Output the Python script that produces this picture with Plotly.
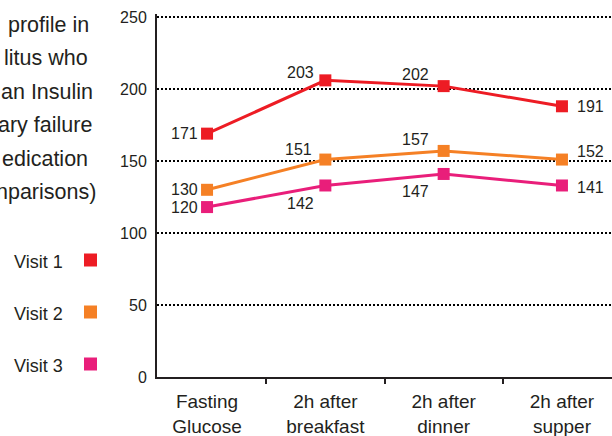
import plotly.graph_objects as go

# ---- data ----
categories = ["Fasting<br>Glucose", "2h after<br>breakfast", "2h after<br>dinner", "2h after<br>supper"]
series_names = ["Visit 1", "Visit 2", "Visit 3"]
visit1 = [169, 206, 202, 188]
visit2 = [130, 151, 157, 151]
visit3 = [118, 133, 141, 133]
visit1_labels = ["171", "203", "202", "191"]
visit2_labels = ["130", "151", "157", "152"]
visit3_labels = ["120", "142", "147", "141"]
y_ticks = [0, 50, 100, 150, 200, 250]
title_lines = ["profile in", "litus who", "an Insulin", "ary failure", "edication", "nparisons)"]

colors = ["#ED1C24", "#F58025", "#E91E7A"]
txt = "#231F20"
FONT = "Liberation Sans, Arial, sans-serif"

W, H = 612, 436
ML, MR, MT, MB = 157, 0, 14, 59
PW, PH = W - ML - MR, H - MT - MB

def px(x):  # page pixel -> paper
    return (x - ML) / PW

def py(y):
    return (H - MB - y) / PH

fig = go.Figure()
all_vals = [visit1, visit2, visit3]
all_labels = [visit1_labels, visit2_labels, visit3_labels]
for name, vals, col in zip(series_names, all_vals, colors):
    fig.add_trace(go.Scatter(
        x=categories, y=vals, mode="lines+markers", name=name,
        line=dict(color=col, width=3),
        marker=dict(symbol="square", size=12, color=col),
        showlegend=False, hoverinfo="skip"))

# label offsets (xanchor, xshift, yshift) per series / point
offsets = [
    [("right", -7, 0), ("right", -9, 8), ("right", -13, 12), ("left", 13, 0)],
    [("right", -7, 0), ("right", -11, 10), ("right", -13, 11), ("left", 13, 8)],
    [("right", -7, 0), ("right", -9, -18), ("right", -13, -18), ("left", 13, -2)],
]
annotations = []
for vals, labs, offs in zip(all_vals, all_labels, offsets):
    for c, v, lab, (xa, xs, ys) in zip(categories, vals, labs, offs):
        annotations.append(dict(
            x=c, y=v, xref="x", yref="y", text=lab, showarrow=False,
            xanchor=xa, yanchor="middle", xshift=xs, yshift=ys,
            font=dict(family=FONT, size=16, color=txt)))

# title fragments (cropped at left edge in the reference)
title_right = [91, 90, 95, 94, 90, 98]
title_y = [25, 58, 92, 125, 159, 192]
for line, xr, yc in zip(title_lines, title_right, title_y):
    annotations.append(dict(
        x=px(xr), y=py(yc), xref="paper", yref="paper", text=line,
        showarrow=False, xanchor="right", yanchor="middle",
        font=dict(family=FONT, size=21.5, color=txt)))

# manual legend (text left, swatch right)
leg_y = [262, 314, 366]
shapes = []
for name, col, yc in zip(series_names, colors, leg_y):
    annotations.append(dict(
        x=px(12), y=py(yc), xref="paper", yref="paper", text=name,
        showarrow=False, xanchor="left", yanchor="middle",
        font=dict(family=FONT, size=18, color=txt)))
    shapes.append(dict(
        type="rect", xref="paper", yref="paper",
        x0=px(84), x1=px(97), y0=py(yc + 4.5), y1=py(yc - 8.5),
        fillcolor=col, line=dict(width=0)))

fig.update_layout(
    width=W, height=H,
    margin=dict(l=ML, r=MR, t=MT, b=MB),
    paper_bgcolor="white", plot_bgcolor="white",
    font=dict(family=FONT, color=txt),
    annotations=annotations, shapes=shapes,
    xaxis=dict(
        type="category", range=[-0.423, 3.423],
        showgrid=False, zeroline=False,
        showline=True, linecolor=txt, linewidth=2,
        ticks="outside", tickson="boundaries", ticklen=5, tickwidth=2, tickcolor=txt,
        tickfont=dict(family=FONT, size=19, color=txt),
        ticklabelstandoff=6),
    yaxis=dict(
        range=[0, 252.08], tickvals=y_ticks,
        showgrid=True, gridcolor="#000000", gridwidth=1.5, griddash="2px,2px",
        zeroline=False, showline=True, linecolor=txt, linewidth=2,
        ticks="outside", ticklen=0,
        tickfont=dict(family=FONT, size=16, color=txt),
        ticklabelstandoff=5),
)

fig.write_html(
    "out.html",
    config={"displayModeBar": False},
    post_script="document.body.style.margin='0px';document.body.style.overflow='hidden';",
)
